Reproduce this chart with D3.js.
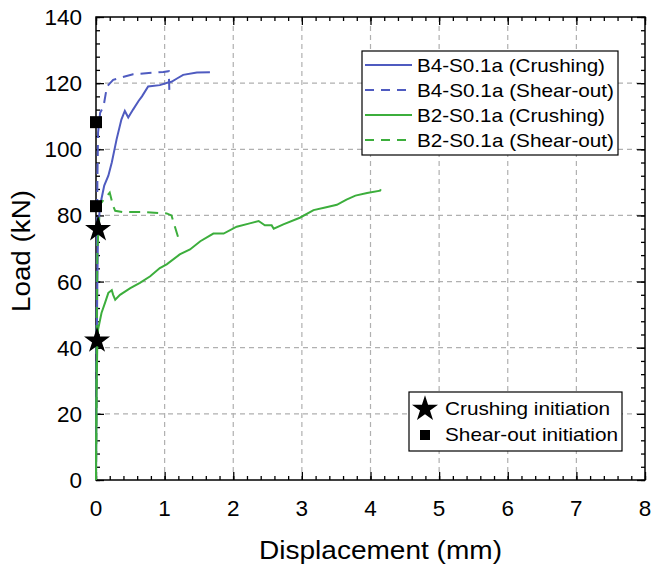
<!DOCTYPE html>
<html>
<head>
  <script src="https://cdn.jsdelivr.net/npm/d3@7"></script>
  <style>
    body { margin: 0; background: #fff; }
    text { font-family: "Liberation Sans", Arial, sans-serif; }
  </style>
</head>
<body>
  <svg width="654" height="564" id="mainsvg"></svg>
  <script>
    // data: [displacement mm, load kN]
    const b4Crushing = [[0,0],[0.01,40],[0.02,60],[0.03,76],[0.06,83],[0.12,89],[0.18,92],[0.23,96],[0.30,103],[0.37,109],[0.42,111.6],[0.47,109.6],[0.54,112],[0.62,114.6],[0.67,116],[0.76,119],[0.93,119.4],[1.05,120.2],[1.10,120.4],[1.18,121.4],[1.27,122.5],[1.47,123.2],[1.66,123.3]];
    const b4Shear = [[0,0],[0.01,60],[0.02,90],[0.03,105],[0.06,111],[0.11,113],[0.16,119],[0.25,121],[0.37,121.7],[0.54,122.7],[0.98,123.4],[1.06,123.6],[1.07,117]];
    const b2Crushing = [[0,0],[0.01,30],[0.02,42],[0.03,45.5],[0.08,50.5],[0.13,53.5],[0.18,56.6],[0.23,57.4],[0.25,56],[0.28,54.5],[0.35,56],[0.5,58],[0.64,59.6],[0.79,61.6],[0.93,64.1],[1.03,65.2],[1.22,68.2],[1.37,69.7],[1.52,72.2],[1.71,74.5],[1.86,74.5],[2.05,76.6],[2.24,77.6],[2.37,78.3],[2.46,77],[2.56,77],[2.59,76],[2.73,77.3],[2.97,79.3],[3.17,81.6],[3.34,82.4],[3.51,83.2],[3.65,84.8],[3.78,86],[3.95,86.8],[4.14,87.5],[4.15,87.9]];
    const b2Shear = [[0,0],[0.01,40],[0.02,70],[0.06,83.3],[0.12,85],[0.20,86.9],[0.25,82.8],[0.28,81.4],[0.4,81],[0.7,81],[1.03,80.6],[1.10,80],[1.20,73.2]];
    const crushInit = [[0.03,75.8],[0.015,42.1]];
    const shearInit = [[0,108.2],[0,82.8]];
    const xTicks = [0,1,2,3,4,5,6,7,8];
    const yTicks = [0,20,40,60,80,100,120,140];

    const series = [
      {name: 'B4-S0.1a (Crushing)', data: b4Crushing, color: '#4f5bc0', dash: null, w: 188},
      {name: 'B4-S0.1a (Shear-out)', data: b4Shear, color: '#4f5bc0', dash: '11,7', w: 197},
      {name: 'B2-S0.1a (Crushing)', data: b2Crushing, color: '#3cae3c', dash: null, w: 188},
      {name: 'B2-S0.1a (Shear-out)', data: b2Shear, color: '#3cae3c', dash: '11,7', w: 197}
    ];

    const svg = d3.select('svg');
    const margin = {top: 17, right: 9, bottom: 84, left: 96};
    const innerWidth = 654 - margin.left - margin.right;
    const innerHeight = 564 - margin.top - margin.bottom;
    const g = svg.append('g').attr('transform', `translate(${margin.left}, ${margin.top})`);

    const xScale = d3.scaleLinear().domain([0, 8]).range([0, innerWidth]);
    const yScale = d3.scaleLinear().domain([0, 140]).range([innerHeight, 0]);

    // grid
    g.append('g').selectAll('line').data(xTicks.slice(1, -1)).join('line')
      .attr('x1', d => xScale(d)).attr('x2', d => xScale(d))
      .attr('y1', 0).attr('y2', innerHeight)
      .attr('stroke', '#b0b0b0').attr('stroke-dasharray', '5,4').attr('stroke-width', 1.2);
    g.append('g').selectAll('line').data(yTicks.slice(1, -1)).join('line')
      .attr('y1', d => yScale(d)).attr('y2', d => yScale(d))
      .attr('x1', 0).attr('x2', innerWidth)
      .attr('stroke', '#b0b0b0').attr('stroke-dasharray', '5,4').attr('stroke-width', 1.2);

    // axes with inward ticks, mirrored on top and right
    const xMinor = d3.range(0, 8.001, 0.2);
    const yMinor = d3.range(0, 140.001, 4);
    function drawTicks(axis, tr) {
      const a = g.append('g').attr('transform', tr).call(axis);
      a.select('.domain').remove();
      a.selectAll('text').remove();
      a.selectAll('line').attr('stroke', '#000').attr('stroke-width', 1.3);
    }
    drawTicks(d3.axisBottom(xScale).tickValues(xMinor).tickSize(-4), `translate(0,${innerHeight})`);
    drawTicks(d3.axisBottom(xScale).tickValues(xTicks).tickSize(-8), `translate(0,${innerHeight})`);
    drawTicks(d3.axisTop(xScale).tickValues(xMinor).tickSize(-4), 'translate(0,0)');
    drawTicks(d3.axisTop(xScale).tickValues(xTicks).tickSize(-8), 'translate(0,0)');
    drawTicks(d3.axisLeft(yScale).tickValues(yMinor).tickSize(-4), 'translate(0,0)');
    drawTicks(d3.axisLeft(yScale).tickValues(yTicks).tickSize(-8), 'translate(0,0)');
    drawTicks(d3.axisRight(yScale).tickValues(yMinor).tickSize(-4), `translate(${innerWidth},0)`);
    drawTicks(d3.axisRight(yScale).tickValues(yTicks).tickSize(-8), `translate(${innerWidth},0)`);

    // tick labels
    g.append('g').selectAll('text').data(xTicks).join('text')
      .attr('x', d => xScale(d)).attr('y', innerHeight + 36)
      .attr('text-anchor', 'middle').attr('font-size', 22.5).text(d => d);
    g.append('g').selectAll('text').data(yTicks).join('text')
      .attr('x', -14).attr('y', d => yScale(d) + 8)
      .attr('text-anchor', 'end').attr('font-size', 22.5).text(d => d);

    g.append('rect').attr('width', innerWidth).attr('height', innerHeight)
      .attr('fill', 'none').attr('stroke', '#000').attr('stroke-width', 1.5);

    // curves
    const line = d3.line().x(d => xScale(d[0])).y(d => yScale(d[1]));
    g.append('g').selectAll('path').data(series).join('path')
      .attr('d', d => line(d.data))
      .attr('fill', 'none')
      .attr('stroke', d => d.color)
      .attr('stroke-width', 2)
      .attr('stroke-dasharray', d => d.dash);

    // initiation markers
    const star = d3.symbol().type(d3.symbolStar).size(210);
    g.append('g').selectAll('path').data(crushInit).join('path')
      .attr('d', star)
      .attr('transform', d => `translate(${xScale(d[0])},${yScale(d[1])})`)
      .attr('fill', '#000');
    g.append('g').selectAll('rect').data(shearInit).join('rect')
      .attr('x', d => xScale(d[0]) - 6).attr('y', d => yScale(d[1]) - 6)
      .attr('width', 12).attr('height', 12).attr('fill', '#000');

    // legend for curves
    const leg = svg.append('g').attr('transform', 'translate(362,51)');
    leg.append('rect').attr('width', 256).attr('height', 104)
      .attr('fill', '#fff').attr('stroke', '#000').attr('stroke-width', 1.2);
    const items = leg.selectAll('g').data(series).join('g')
      .attr('transform', (d, i) => `translate(0,${14 + i * 25})`);
    items.append('line').attr('x1', 3).attr('x2', 50).attr('y1', 0).attr('y2', 0)
      .attr('stroke', d => d.color).attr('stroke-width', 2)
      .attr('stroke-dasharray', d => d.dash ? '9,7' : null);
    items.append('text').attr('x', 55).attr('y', 7).attr('font-size', 18.5)
      .attr('textLength', d => d.w).attr('lengthAdjust', 'spacingAndGlyphs')
      .text(d => d.name);

    // legend for markers
    const leg2 = svg.append('g').attr('transform', 'translate(409,392)');
    leg2.append('rect').attr('width', 213).attr('height', 59)
      .attr('fill', '#fff').attr('stroke', '#000').attr('stroke-width', 1.2);
    leg2.append('path').attr('d', star).attr('transform', 'translate(16,17)').attr('fill', '#000');
    leg2.append('rect').attr('x', 11).attr('y', 38).attr('width', 10).attr('height', 10).attr('fill', '#000');
    leg2.append('text').attr('x', 36).attr('y', 23).attr('font-size', 18.5)
      .attr('textLength', 165).attr('lengthAdjust', 'spacingAndGlyphs').text('Crushing initiation');
    leg2.append('text').attr('x', 36).attr('y', 49).attr('font-size', 18.5)
      .attr('textLength', 173).attr('lengthAdjust', 'spacingAndGlyphs').text('Shear-out initiation');

    // axis titles
    svg.append('text').attr('x', 259).attr('y', 559)
      .attr('font-size', 26).attr('textLength', 243).attr('lengthAdjust', 'spacingAndGlyphs')
      .text('Displacement (mm)');
    svg.append('text').attr('transform', 'translate(30,312) rotate(-90)')
      .attr('font-size', 26).attr('textLength', 122).attr('lengthAdjust', 'spacingAndGlyphs')
      .text('Load (kN)');
  </script>
</body>
</html>
